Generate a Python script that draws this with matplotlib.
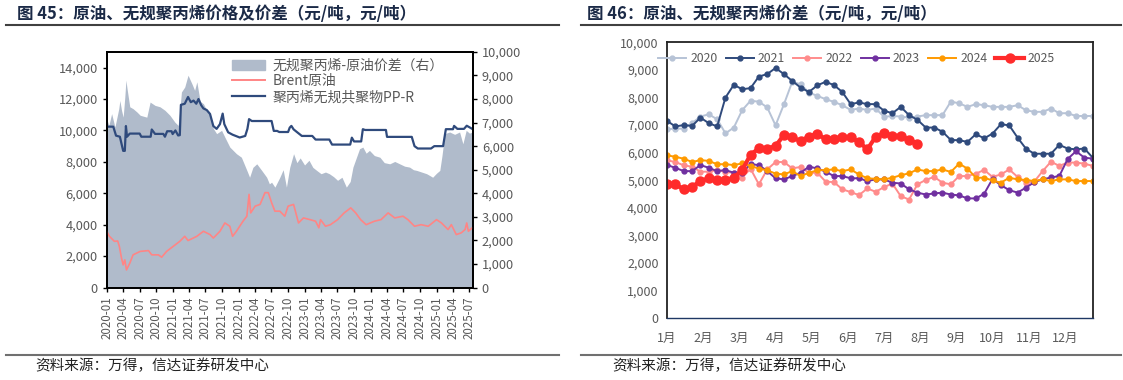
import matplotlib
matplotlib.use('Agg')
import matplotlib.pyplot as plt
from matplotlib.lines import Line2D
from matplotlib.patches import Patch
from matplotlib.ticker import FuncFormatter
import matplotlib.dates as mdates
import numpy as np
import pandas as pd

plt.rcParams['font.family'] = ['Noto Sans CJK SC', 'DejaVu Sans']
plt.rcParams['axes.unicode_minus'] = False

# ---------------- left chart data (t = months since 2020-01) ----------------
spread_t = [0, 0.4, 0.9, 1.5, 2.2, 2.4, 2.7, 3.0, 3.3, 3.5, 3.7, 4.2, 4.8, 5.5, 6.1, 7.3, 7.9,
            8.8, 9.7, 10.6, 11.5, 12.4, 13.0, 13.3, 13.6, 14.2, 14.8, 15.5, 16.0, 16.4, 17.0,
            17.6, 18.2, 18.8, 19.4, 20.0, 20.9, 21.5, 22.4, 23.6, 24.5, 25.5, 26.0, 26.6, 27.3,
            28.2, 29.1, 29.6, 30.0, 30.6, 31.5, 32.1, 32.7, 33.3, 34.0, 34.6, 35.2, 36.0, 36.8,
            37.5, 38.2, 39.0, 39.8, 40.5, 41.3, 42.0, 42.8, 43.6, 44.3, 44.8, 45.4, 46.0, 46.6,
            47.2, 47.8, 48.7, 49.7, 50.5, 51.5, 52.4, 53.3, 54.2, 55.1, 55.8, 56.4, 57.3, 58.2,
            58.8, 59.3, 60.0, 60.6, 61.0, 61.5, 62.4, 63.3, 64.2, 64.8, 65.4, 66.0, 66.5]
spread_v = [7160, 6880, 7380, 6810, 7590, 7940, 7520, 7230, 8090, 8800, 8450, 7670, 7590, 7450,
            7310, 7230, 7870, 7730, 7670, 7520, 7310, 7020, 6880, 7520, 8300, 8510, 9010, 8650,
            8370, 8730, 7900, 7800, 7520, 7310, 6750, 6530, 6670, 6380, 5960, 5680, 5530, 4970,
            4680, 5100, 5250, 4970, 4680, 4400, 4470, 4260, 4680, 5000, 4260, 5100, 5680, 5300,
            5500, 5200, 5400, 5100, 4970, 4830, 4900, 4830, 4700, 4550, 4680, 4260, 4500, 5110,
            5500, 5890, 5960, 5700, 5820, 5600, 5530, 5300, 5250, 5350, 5250, 5150, 5110, 5000,
            4970, 4900, 4830, 4750, 4680, 4850, 4970, 5600, 6530, 6600, 6500, 6600, 6100, 6670,
            6550, 6600]

brent_t = [0, 0.5, 1.4, 2.0, 2.3, 2.7, 3.0, 3.3, 3.6, 4.2, 4.8, 6.1, 7.6, 8.2, 9.4, 10.0, 10.9,
           12.1, 13.3, 14.2, 14.8, 16.4, 17.6, 18.8, 19.4, 20.6, 21.5, 22.4, 22.9, 23.6, 24.8,
           25.5, 25.9, 26.2, 27.0, 27.9, 28.8, 29.4, 30.0, 30.6, 31.5, 32.4, 33.0, 34.0, 34.9,
           35.8, 37.0, 38.0, 38.6, 38.9, 39.8, 40.7, 42.0, 43.2, 44.4, 45.3, 46.2, 47.2, 48.7,
           49.9, 51.2, 52.4, 53.9, 54.8, 56.0, 57.2, 58.5, 60.0, 60.9, 62.1, 62.7, 63.6, 64.5,
           65.2, 65.5, 65.8, 66.5]
brent_v = [3580, 3260, 2940, 2960, 2620, 1870, 1440, 1760, 1120, 1550, 2080, 2300, 2350, 2080,
           2080, 1930, 2300, 2620, 2940, 3260, 2990, 3260, 3580, 3370, 3150, 3580, 4110, 3900,
           3260, 3580, 4220, 4540, 5930, 4750, 5180, 5290, 6040, 6040, 5400, 4860, 4860, 4540,
           5180, 5290, 4110, 4430, 4320, 4220, 3800, 4320, 3900, 4000, 4320, 4750, 5070, 4750,
           4320, 4000, 4220, 4320, 4750, 4430, 4540, 4320, 3900, 4000, 3900, 4320, 4110, 3690,
           4000, 3370, 3480, 3690, 4110, 3580, 3800]

ppr_t = [0, 1.2, 1.7, 2.4, 2.8, 3.0, 3.3, 3.5, 3.7, 4.2, 6.0, 6.3, 8.0, 8.2, 8.8, 10.3, 10.6,
         11.0, 11.8, 12.0, 12.5, 13.0, 13.3, 13.5, 14.2, 14.8, 15.3, 15.8, 16.3, 16.7, 17.2,
         17.6, 18.2, 18.8, 19.4, 20.0, 20.6, 21.1, 21.4, 22.1, 22.9, 24.2, 25.2, 25.6, 25.9,
         26.4, 30.0, 30.4, 31.0, 31.4, 33.0, 33.3, 33.6, 34.0, 34.6, 35.5, 37.4, 38.0, 40.5,
         41.0, 44.3, 44.6, 45.0, 46.3, 46.6, 47.0, 50.8, 51.0, 55.5, 56.0, 56.6, 59.0, 59.6,
         61.2, 61.7, 63.0, 63.2, 63.8, 65.0, 65.5, 66.5]
ppr_v = [10240, 10240, 9670, 9600, 9000, 8700, 8700, 10280, 9600, 9800, 9800, 9600, 9600, 10060,
         9780, 9780, 9600, 9950, 9950, 9770, 10000, 9680, 9700, 11630, 11700, 12130, 11800,
         11900, 11700, 12000, 11600, 11400, 11300, 11050, 10280, 10100, 10400, 11070, 10400,
         9880, 9730, 9550, 9650, 10100, 10720, 10600, 10600, 9970, 9970, 9900, 9900, 10180,
         10290, 10070, 9900, 9650, 9650, 9420, 9420, 9100, 9100, 9540, 9300, 9300, 10080, 10030,
         10030, 9590, 9590, 9000, 8850, 8850, 9000, 9000, 10080, 10080, 10290, 10100, 10100,
         10300, 10100]

# ---------------- right chart data (weekly spread, yuan/t) ----------------
months_cn = ['1月', '2月', '3月', '4月', '5月', '6月', '7月', '8月', '9月', '10月', '11月', '12月']
y2020 = [6850, 6870, 6870, 7070, 7310, 7390, 7210, 6700, 6910, 7540, 7880, 7850, 7640, 6990,
         7750, 8570, 8480, 8180, 8060, 7940, 7840, 7720, 7550, 7600, 7550, 7600, 7300, 7330,
         7310, 7270, 7310, 7360, 7360, 7360, 7850, 7790, 7660, 7760, 7720, 7660, 7660, 7660,
         7720, 7540, 7480, 7480, 7600, 7430, 7430, 7330, 7330, 7330]
y2021 = [7150, 6950, 7000, 6970, 7270, 7070, 6950, 8000, 8460, 8300, 8340, 8760, 8850, 9070,
         8850, 8600, 8360, 8200, 8440, 8570, 8450, 8200, 7760, 7820, 7760, 7760, 7520, 7430,
         7660, 7360, 7190, 6910, 6910, 6760, 6460, 6450, 6390, 6670, 6520, 6690, 7030, 6990,
         6545, 6145, 5960, 5960, 5960, 6280, 6150, 6120, 6150, 5820]
y2022 = [5720, 5660, 5540, 5490, 5310, 5310, 5370, 5300, 5270, 5090, 5420, 4850, 5390, 5660,
         5660, 5430, 5480, 5270, 5270, 4950, 4930, 4670, 4570, 4460, 4700, 4580, 4750, 4880,
         4420, 4300, 4850, 5010, 5120, 4910, 4850, 5150, 5150, 5240, 5370, 5120, 5210, 5390,
         5120, 4910, 4950, 5330, 5670, 5520, 5640, 5640, 5600, 5520]
y2023 = [5550, 5450, 5330, 5330, 5550, 5450, 5330, 5370, 5270, 5270, 5580, 5550, 5330, 5070,
         5030, 5150, 5270, 5490, 5430, 5310, 5150, 5150, 5070, 5070, 4970, 5030, 5030, 4910,
         4880, 4670, 4550, 4480, 4520, 4550, 4480, 4450, 4340, 4340, 4510, 5050, 4820, 4640,
         4550, 4730, 4930, 5030, 5100, 5150, 5770, 6050, 5820, 5780]
y2024 = [5900, 5850, 5780, 5660, 5730, 5700, 5580, 5580, 5550, 5610, 5520, 5420, 5360, 5240,
         5210, 5330, 5150, 5270, 5360, 5370, 5390, 5330, 5390, 5210, 5070, 5050, 5030, 5090,
         5180, 5250, 5390, 5330, 5330, 5390, 5300, 5600, 5420, 5090, 5090, 4990, 4910, 5090,
         5030, 5010, 4970, 5030, 4970, 5030, 5030, 4970, 4970, 4970]
y2025 = [4880, 4850, 4670, 4760, 4970, 5070, 5010, 5010, 5090, 5370, 5920, 6160, 6150, 6240,
         6640, 6550, 6420, 6580, 6690, 6480, 6510, 6550, 6550, 6390, 6120, 6580, 6700, 6610,
         6610, 6460, 6330]


def to_dates(t):
    return pd.Timestamp('2020-01-01') + pd.to_timedelta(np.array(t) * 30.44, unit='D')


grey = '#595959'
thousands = FuncFormatter(lambda v, _: f'{int(v):,}')

fig = plt.figure(figsize=(11.23, 3.8), dpi=100)

# ---------------- left chart ----------------
ax = fig.add_axes([0.095, 0.2434, 0.326, 0.62])
ax2 = ax.twinx()
ax2.fill_between(to_dates(spread_t), spread_v, color='#b0bbcb', lw=0)
ax2.set_ylim(0, 10000)
ax2.set_yticks(range(0, 10001, 1000))
ax2.yaxis.set_major_formatter(thousands)

ax.plot(to_dates(brent_t), brent_v, color='#ff8585', lw=1.2)
ax.plot(to_dates(ppr_t), ppr_v, color='#2f4a7c', lw=1.6)
ax.set_zorder(ax2.get_zorder() + 1)
ax.patch.set_visible(False)
ax.set_ylim(0, 15000)
ax.set_yticks(range(0, 14001, 2000))
ax.yaxis.set_major_formatter(thousands)
ax.set_xlim(to_dates([0, 66.6]))
ax.set_xticks(pd.date_range('2020-01-01', '2025-07-01', freq='3MS'))
ax.xaxis.set_major_formatter(mdates.DateFormatter('%Y-%m'))
for lab in ax.get_xticklabels():
    lab.set_rotation(90)

for a in (ax, ax2):
    a.tick_params(direction='out', length=3, width=1, color='black', labelcolor=grey, labelsize=9.2)
    for s in a.spines.values():
        s.set_color('black')
        s.set_linewidth(1.3)
ax.tick_params(axis='x', labelsize=8.3)

handles = [Patch(color='#b0bbcb'),
           Line2D([], [], color='#ff8585', lw=1.4),
           Line2D([], [], color='#2f4a7c', lw=1.6)]
labels = ['无规聚丙烯-原油价差（右）', 'Brent原油', '聚丙烯无规共聚物PP-R']
leg = ax.legend(handles, labels, loc='upper right', bbox_to_anchor=(0.935, 0.995), frameon=False,
                fontsize=10, handlelength=2.4, handleheight=0.8, labelspacing=0.12,
                handletextpad=0.5, borderaxespad=0.0)
for t in leg.get_texts():
    t.set_color(grey)

# ---------------- right chart ----------------
bx = fig.add_axes([0.594, 0.163, 0.379, 0.7255])
weeks = np.arange(52)
styles = [('2020', y2020, '#b7c3d6', 1.4, 3.5),
          ('2021', y2021, '#2f4a7c', 1.4, 3.5),
          ('2022', y2022, '#ff8c8c', 1.4, 3.5),
          ('2023', y2023, '#7030a0', 1.4, 3.5),
          ('2024', y2024, '#ff9a00', 1.4, 3.5),
          ('2025', y2025, '#ff2b2b', 3.0, 6.5)]
for name, vals, col, lw, ms in styles:
    bx.plot(weeks[:len(vals)], vals, color=col, lw=lw, marker='o', ms=ms, label=name)

bx.set_xlim(0, 51)
bx.set_ylim(0, 10000)
bx.set_yticks(range(0, 10001, 1000))
bx.yaxis.set_major_formatter(thousands)
bx.set_xticks(np.arange(12) * 52 / 12)
bx.set_xticklabels(months_cn)
bx.tick_params(length=0, labelcolor=grey, labelsize=9, pad=6)
bx.tick_params(axis='x', pad=10)
for s in bx.spines.values():
    s.set_color('#222222')
    s.set_linewidth(1.3)
bx.spines['bottom'].set_color('#1f3864')
bx.spines['bottom'].set_linewidth(1.0)
leg2 = bx.legend(loc='upper center', bbox_to_anchor=(0.445, 1.005), ncol=6, frameon=False,
                 fontsize=8.8, handlelength=2.3, columnspacing=0.65, handletextpad=0.35)
for t in leg2.get_texts():
    t.set_color(grey)

# ---------------- titles, rules and source notes ----------------
fig.text(0.015, 0.962, '图 45：原油、无规聚丙烯价格及价差（元/吨，元/吨）',
         fontsize=11.9, fontweight='bold', color='#1b2a47', va='center')
fig.text(0.523, 0.962, '图 46：原油、无规聚丙烯价差（元/吨，元/吨）',
         fontsize=11.9, fontweight='bold', color='#1b2a47', va='center')
for x0, x1 in [(0.005, 0.498), (0.517, 0.998)]:
    fig.add_artist(Line2D([x0, x1], [0.934, 0.934], transform=fig.transFigure,
                          color='#404040', lw=1.5))
    fig.add_artist(Line2D([x0, x1], [0.066, 0.066], transform=fig.transFigure,
                          color='#707070', lw=1.5))
fig.text(0.031, 0.036, '资料来源：万得，信达证券研发中心', fontsize=10.5, style='italic',
         color='#222222', va='center')
fig.text(0.545, 0.036, '资料来源：万得，信达证券研发中心', fontsize=10.5, style='italic',
         color='#222222', va='center')

fig.savefig('out.png', dpi=100)
